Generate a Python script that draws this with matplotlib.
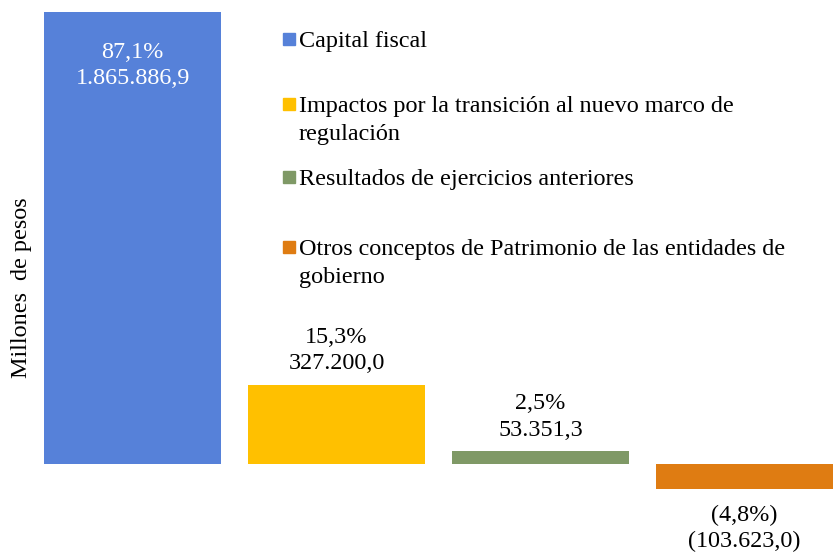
import matplotlib.pyplot as plt
from matplotlib.patches import Rectangle

# --- data ---
categories = ["Capital fiscal",
              "Impactos por la transición al nuevo marco de\nregulación",
              "Resultados de ejercicios anteriores",
              "Otros conceptos de Patrimonio de las entidades de\ngobierno"]
values = [1865886.9, 327200.0, 53351.3, -103623.0]
pct_labels = ["87,1%", "15,3%", "2,5%", "(4,8%)"]
value_labels = ["1.865.886,9", "327.200,0", "53.351,3", "(103.623,0)"]
colors = ["#5681D9", "#FFC000", "#7F9966", "#DF7C12"]

plt.rcParams['font.family'] = ['Liberation Serif', 'DejaVu Serif']
FS = 17.4

fig = plt.figure(figsize=(8.33, 5.52), dpi=100)
W, H = 833, 552
ax = fig.add_axes([44 / W, 0, 789 / W, 540 / H])

width = 0.87
x = list(range(len(values)))
ax.bar(x, values, width=width, color=colors)
ax.set_xlim(-width / 2, len(values) - 1 + width / 2)
ax.set_ylim(-values[0] * 88 / 452, values[0])
ax.axis("off")

for i, (v, p, lab) in enumerate(zip(values, pct_labels, value_labels)):
    txt = f"{p}\n{lab}"
    if i == 0:
        ax.annotate(txt, (i, v), xytext=(0, -21.5), textcoords="offset points",
                    ha="center", va="top", color="white", fontsize=FS,
                    linespacing=1.33)
    elif v >= 0:
        ax.annotate(txt, (i, v), xytext=(0, 7.5), textcoords="offset points",
                    ha="center", va="bottom", color="black", fontsize=FS,
                    linespacing=1.33)
    else:
        ax.annotate(txt, (i, v), xytext=(0, -11), textcoords="offset points",
                    ha="center", va="top", color="black", fontsize=FS,
                    linespacing=1.33)

fig.text(22 / W, 1 - 288 / H, "Millones  de pesos", rotation=90,
         ha="center", va="center", fontsize=FS)

# manual legend (Excel-like spacing)
legend_y = [40, 105, 178, 248]
for lab, col, yy in zip(categories, colors, legend_y):
    fig.patches.append(Rectangle((283 / W, 1 - (yy + 5) / H), 12 / W, 12 / H,
                                 transform=fig.transFigure, color=col))
    fig.text(299 / W, 1 - (yy - 9) / H, lab, ha="left", va="top",
             fontsize=FS, linespacing=1.46)

fig.savefig("out.png", dpi=100)
